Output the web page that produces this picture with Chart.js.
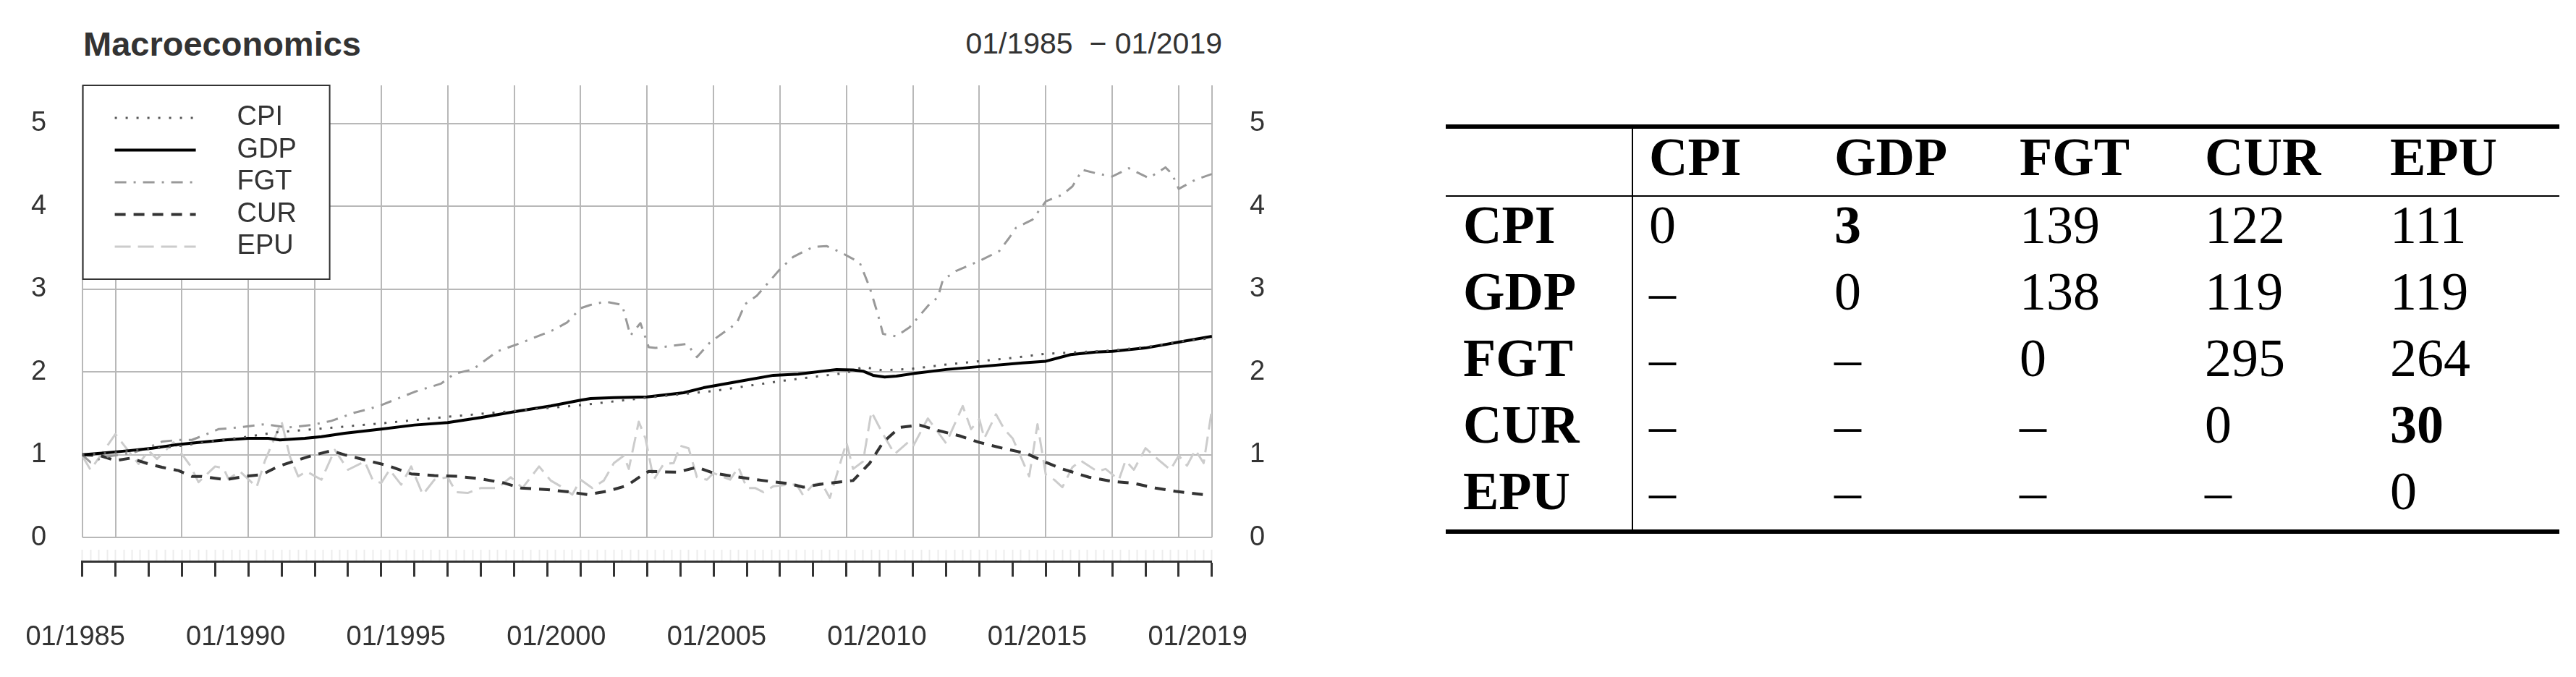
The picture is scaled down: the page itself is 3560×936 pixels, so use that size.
<!DOCTYPE html>
<html>
<head>
<meta charset="utf-8">
<title>Macroeconomics</title>
<script src="https://cdn.jsdelivr.net/npm/chart.js@4.4.1/dist/chart.umd.min.js"></script>
<style>
  html, body { margin: 0; padding: 0; background: #fff; }
  body { width: 3560px; height: 936px; position: relative; overflow: hidden; }
  .chart-box { position: absolute; left: 0; top: 0; width: 1760px; height: 936px; }
  .chart-title { position: absolute; left: 115px; top: 37px; font: bold 47px/47px "Liberation Sans", Arial, sans-serif; color: #333; }
  .chart-range { position: absolute; left: 1189px; top: 40px; width: 500px; text-align: right; white-space: pre; font: 41px/41px "Liberation Sans", Arial, sans-serif; color: #333; }
  table.counts { position: absolute; left: 1998px; top: 172px; border-collapse: separate; border-spacing: 0; table-layout: fixed; width: 1539px;
    font-family: "Liberation Serif", "Times New Roman", serif; font-size: 74px; color: #000; }
  table.counts th, table.counts td { padding: 0 0 0 22px; text-align: left; vertical-align: middle; line-height: 1; font-weight: normal; }
  table.counts thead tr { height: 100px; }
  table.counts tbody tr { height: 92px; }
  table.counts tbody tr:last-child { height: 98px; }
  table.counts thead th { border-top: 6px solid #000; border-bottom: 2px solid #000; font-weight: bold; }
  table.counts tbody tr:last-child td { border-bottom: 6px solid #000; }
  table.counts .rowhead { border-right: 2px solid #000; padding-left: 24px; font-weight: bold; }
  table.counts .b { font-weight: bold; }
  table.counts span { position: relative; top: -7px; }
</style>
</head>
<body>
<div class="chart-title">Macroeconomics</div>
<div class="chart-range">01/1985  − 01/2019</div>
<div class="chart-box"><canvas id="macroChart" width="1760" height="936" style="width:1760px;height:936px"></canvas></div>
<table class="counts" id="counts">
  <colgroup><col style="width:259px"><col style="width:256px"><col style="width:256px"><col style="width:256px"><col style="width:256px"><col style="width:256px"></colgroup>
  <thead></thead>
  <tbody></tbody>
</table>
<script>
// series: [year, index value]
const cpiSeries = [[1985, 1.00], [1986, 1.03], [1987, 1.07], [1988, 1.11], [1989, 1.17], [1990, 1.22], [1990.8, 1.27], [1992, 1.31],
  [1994, 1.38], [1996, 1.46], [1998, 1.53], [2000, 1.60], [2002, 1.69], [2004, 1.77], [2006, 1.89], [2008, 1.99], [2008.5, 2.06],
  [2009.1, 2.02], [2010, 2.04], [2011, 2.09], [2012, 2.13], [2013, 2.17], [2014, 2.22], [2015, 2.24], [2016, 2.26], [2017, 2.30],
  [2018, 2.365], [2019, 2.41]];

const gdpSeries = [[1985, 1.00], [1985.6, 1.02], [1986.4, 1.05], [1987.1, 1.08], [1987.8, 1.12], [1988.5, 1.15], [1989.3, 1.18],
  [1990, 1.20], [1990.6, 1.20], [1990.95, 1.18], [1991.7, 1.20], [1992.2, 1.22], [1992.9, 1.26], [1994, 1.31], [1995, 1.36],
  [1996, 1.39], [1997, 1.45], [1998, 1.52], [1999.1, 1.59], [2000, 1.66], [2000.3, 1.68], [2001, 1.69], [2002, 1.70],
  [2003.1, 1.75], [2003.7, 1.81], [2004.8, 1.89], [2005.8, 1.96], [2006.55, 1.975], [2007.7, 2.03], [2008.2, 2.025],
  [2008.5, 2.01], [2008.8, 1.96], [2009.15, 1.94], [2009.5, 1.95], [2010, 1.98], [2011, 2.03], [2012, 2.065], [2013.3, 2.11],
  [2014, 2.13], [2014.75, 2.21], [2015.5, 2.24], [2016, 2.25], [2017, 2.29], [2018, 2.36], [2019, 2.43]];

const fgtSeries = [[1985, 1.00], [1985.25, 0.91], [1985.75, 0.98], [1986.5, 1.02], [1987, 1.09], [1987.4, 1.16], [1987.9, 1.18],
  [1988.3, 1.18], [1988.75, 1.25], [1989.1, 1.31], [1989.7, 1.33], [1990.5, 1.37], [1991.2, 1.33], [1991.9, 1.36], [1992.5, 1.41],
  [1993.2, 1.51], [1993.6, 1.55], [1994, 1.60], [1995, 1.76], [1995.8, 1.86], [1996.2, 1.98], [1996.75, 2.03], [1997.5, 2.25],
  [1998.2, 2.35], [1999.2, 2.51], [1999.6, 2.60], [2000, 2.77], [2000.3, 2.81], [2000.75, 2.85], [2001.25, 2.81], [2001.5, 2.44],
  [2001.8, 2.59], [2002.05, 2.30], [2002.25, 2.29], [2003.2, 2.34], [2003.5, 2.18], [2003.9, 2.36], [2004.7, 2.59], [2004.95, 2.82],
  [2005.3, 2.92], [2006, 3.24], [2006.4, 3.39], [2007, 3.51], [2007.4, 3.52], [2007.85, 3.44], [2008.4, 3.32], [2008.7, 3.02],
  [2008.95, 2.69], [2009.1, 2.46], [2009.5, 2.43], [2009.9, 2.54], [2010.5, 2.82], [2010.75, 2.90], [2010.9, 3.11], [2011.3, 3.22],
  [2012, 3.34], [2012.6, 3.46], [2012.9, 3.62], [2013.1, 3.74], [2013.6, 3.84], [2014, 4.06], [2014.5, 4.14], [2014.8, 4.24],
  [2015.1, 4.44], [2015.6, 4.39], [2016, 4.36], [2016.5, 4.46], [2017.1, 4.34], [2017.6, 4.47], [2017.8, 4.39], [2018, 4.21],
  [2018.5, 4.32], [2019, 4.39]];

const curSeries = [[1985, 1.00], [1985.55, 0.99], [1986, 0.93], [1986.45, 0.96], [1987, 0.89], [1987.4, 0.85], [1987.9, 0.81],
  [1988.3, 0.74], [1988.6, 0.74], [1989.3, 0.70], [1989.9, 0.74], [1990.4, 0.76], [1990.9, 0.86], [1991.5, 0.94], [1991.9, 0.99],
  [1992.5, 1.05], [1992.9, 1.00], [1993.6, 0.93], [1994.2, 0.87], [1994.9, 0.77], [1995.6, 0.75], [1996.3, 0.74], [1997, 0.71],
  [1997.7, 0.66], [1998.2, 0.60], [1999, 0.58], [1999.7, 0.55], [2000.2, 0.52], [2000.8, 0.56], [2001.4, 0.63], [2001.8, 0.74],
  [2002.05, 0.80], [2002.9, 0.79], [2003.5, 0.85], [2004, 0.78], [2004.6, 0.74], [2005.5, 0.69], [2006.3, 0.65], [2006.7, 0.61],
  [2007.3, 0.65], [2008.2, 0.69], [2008.7, 0.90], [2009.1, 1.15], [2009.6, 1.33], [2010.2, 1.36], [2010.7, 1.30], [2011.4, 1.23],
  [2012, 1.15], [2012.8, 1.07], [2013.4, 1.02], [2014, 0.91], [2014.5, 0.83], [2015.3, 0.73], [2016, 0.68], [2016.6, 0.66],
  [2017.3, 0.60], [2017.9, 0.56], [2018.75, 0.52]];

const epuSeries = [[1985, 0.99], [1985.25, 0.82], [1986, 1.25], [1986.25, 1.12], [1986.7, 0.89], [1987, 1.05], [1987.25, 0.95],
  [1987.75, 1.15], [1988.25, 0.87], [1988.5, 0.67], [1989, 0.86], [1989.25, 0.84], [1989.4, 0.71], [1989.75, 0.80], [1990.25, 0.61],
  [1990.5, 0.93], [1991, 1.40], [1991.25, 0.98], [1991.5, 0.74], [1991.75, 0.80], [1992.2, 0.70], [1992.6, 1.06], [1993, 0.82],
  [1993.5, 0.92], [1993.75, 0.69], [1994, 0.66], [1994.25, 0.82], [1994.6, 0.64], [1994.9, 0.86], [1995.25, 0.52], [1995.6, 0.70],
  [1996, 0.73], [1996.25, 0.55], [1996.6, 0.54], [1997, 0.60], [1997.5, 0.60], [1997.9, 0.73], [1998.25, 0.60], [1998.75, 0.86],
  [1999.1, 0.69], [1999.4, 0.62], [1999.75, 0.52], [2000, 0.70], [2000.35, 0.60], [2000.7, 0.69], [2001, 0.90], [2001.3, 0.99],
  [2001.45, 0.83], [2001.75, 1.40], [2001.95, 1.20], [2002.2, 0.70], [2002.5, 0.89], [2002.8, 0.90], [2003, 1.11], [2003.25, 1.08],
  [2003.5, 0.73], [2003.8, 0.70], [2004, 0.78], [2004.5, 0.70], [2004.75, 0.85], [2005, 0.60], [2005.25, 0.60], [2005.5, 0.55],
  [2005.8, 0.62], [2006.25, 0.64], [2006.5, 0.64], [2006.7, 0.51], [2007, 0.64], [2007.25, 0.66], [2007.5, 0.48], [2008, 1.15],
  [2008.2, 0.83], [2008.5, 0.92], [2008.75, 1.52], [2009.1, 1.25], [2009.45, 1.01], [2009.85, 1.15], [2010, 1.10], [2010.45, 1.44],
  [2011, 1.14], [2011.5, 1.59], [2011.75, 1.31], [2012, 1.43], [2012.15, 1.20], [2012.5, 1.49], [2012.75, 1.31], [2013, 1.20],
  [2013.2, 1.02], [2013.5, 0.74], [2013.75, 1.37], [2014, 0.76], [2014.25, 0.70], [2014.5, 0.61], [2014.8, 0.85], [2015.05, 0.93],
  [2015.55, 0.80], [2015.8, 0.83], [2016.2, 0.70], [2016.4, 0.93], [2016.65, 0.82], [2017, 1.08], [2017.45, 0.92], [2017.75, 0.82],
  [2018, 0.99], [2018.25, 0.87], [2018.5, 1.06], [2018.75, 0.90], [2019, 1.55]];

const xLabels = ['01/1985', '01/1990', '01/1995', '01/2000', '01/2005', '01/2010', '01/2015', '01/2019'];
const yTicks = [0, 1, 2, 3, 4, 5];

// table on the right
const tableVars = ['CPI', 'GDP', 'FGT', 'CUR', 'EPU'];
const tableRows = [
  [0, 3, 139, 122, 111],
  [null, 0, 138, 119, 119],
  [null, null, 0, 295, 264],
  [null, null, null, 0, 30],
  [null, null, null, null, 0]
];
const boldCells = [[0, 1], [3, 4]];

const firstYear = 1985, lastYear = 2019;
const yearTicks = [];
for (let y = firstYear; y <= lastYear; y++) yearTicks.push(y);
const quarterTicks = [];
for (let q = 0; q <= (lastYear - firstYear) * 4; q++) quarterTicks.push(firstYear + q / 4);
const gridYears = yearTicks.filter(y => y % 2 === 0 || y === firstYear || y === lastYear);

const toPoints = s => s.map(p => ({ x: p[0], y: p[1] }));

// legend drawn as a boxed panel in the top-left corner of the plot
const legendBox = {
  id: 'legendBox',
  afterDraw(chart) {
    const { ctx, chartArea } = chart;
    const x = chartArea.left + 1, y = chartArea.top;
    ctx.save();
    ctx.fillStyle = '#fff';
    ctx.fillRect(x, y, 341, 268);
    ctx.strokeStyle = '#333';
    ctx.lineWidth = 2;
    ctx.strokeRect(x, y, 341, 268);
    chart.data.datasets.forEach((ds, i) => {
      const ly = y + 45 + i * 44.5;
      ctx.beginPath();
      ctx.setLineDash(ds.borderDash || []);
      ctx.strokeStyle = ds.borderColor;
      ctx.lineWidth = ds.borderWidth;
      ctx.moveTo(x + 44, ly);
      ctx.lineTo(x + 156, ly);
      ctx.stroke();
      ctx.setLineDash([]);
      ctx.fillStyle = '#333';
      ctx.font = '38px "Liberation Sans", Arial, sans-serif';
      ctx.textBaseline = 'middle';
      ctx.fillText(ds.label, x + 213, ly);
    });
    ctx.restore();
  }
};

Chart.defaults.font.family = '"Liberation Sans", Arial, sans-serif';
Chart.defaults.color = '#333';

const line = (label, series, color, width, dash) => ({
  label: label,
  data: toPoints(series),
  borderColor: color,
  borderWidth: width,
  borderDash: dash,
  xAxisID: 'x',
  yAxisID: 'y'
});

new Chart(document.getElementById('macroChart'), {
  type: 'line',
  data: {
    datasets: [
      line('CPI', cpiSeries, '#555', 3, [3, 12]),
      line('GDP', gdpSeries, '#000', 4, []),
      line('FGT', fgtSeries, '#999', 3, [16, 10, 3, 10]),
      line('CUR', curSeries, '#333', 4, [15, 11]),
      line('EPU', epuSeries, '#ccc', 3, [22, 10])
    ]
  },
  options: {
    responsive: false,
    animation: false,
    layout: { padding: { left: 43, right: 12, top: 118, bottom: 32 } },
    elements: {
      point: { radius: 0, hoverRadius: 0 },
      line: { tension: 0, fill: false, borderJoinStyle: 'round' }
    },
    plugins: { legend: { display: false }, tooltip: { enabled: false } },
    scales: {
      x: {
        type: 'linear', position: 'bottom', weight: 0, min: firstYear, max: lastYear,
        afterBuildTicks: axis => { axis.ticks = gridYears.map(v => ({ value: v })); },
        grid: { color: '#b8b8b8', lineWidth: 2, drawTicks: true, tickLength: 17, tickColor: 'rgba(0,0,0,0)' },
        border: { display: false },
        ticks: { display: false }
      },
      xq: {
        type: 'linear', position: 'bottom', weight: 1, min: firstYear, max: lastYear,
        afterBuildTicks: axis => { axis.ticks = quarterTicks.map(v => ({ value: v })); },
        grid: { drawOnChartArea: false, tickLength: 16, tickColor: '#ececec', tickWidth: 2 },
        border: { display: false },
        ticks: { display: false }
      },
      xy: {
        type: 'linear', position: 'bottom', weight: 2, min: firstYear, max: lastYear,
        afterBuildTicks: axis => { axis.ticks = yearTicks.map(v => ({ value: v })); },
        grid: { drawOnChartArea: false, tickLength: 21, tickColor: '#333', tickWidth: 3 },
        border: { display: true, color: '#333', width: 3 },
        ticks: { display: false }
      },
      xl: {
        // date labels are spread evenly under the axis
        type: 'linear', position: 'bottom', weight: 3, min: 0, max: 1561.5 / 221.6,
        afterBuildTicks: axis => { axis.ticks = xLabels.map((_, i) => ({ value: i })); },
        afterFit: axis => { axis.height = 106.6; axis.paddingLeft = 0; axis.paddingRight = 0; },
        grid: { display: false, drawTicks: false },
        border: { display: false },
        ticks: { padding: 61, labelOffset: -9.5, autoSkip: false, maxRotation: 0, font: { size: 38 }, color: '#333',
          callback: v => xLabels[v] }
      },
      y: {
        type: 'linear', position: 'left', min: 0, max: 5.46,
        afterBuildTicks: axis => { axis.ticks = yTicks.map(v => ({ value: v })); },
        afterFit: axis => { axis.width = 70.6; },
        grid: { color: '#b8b8b8', lineWidth: 2, drawTicks: false },
        border: { display: false },
        ticks: { padding: 49.5, font: { size: 38 }, color: '#333' }
      },
      y2: {
        type: 'linear', position: 'right', min: 0, max: 5.46,
        afterBuildTicks: axis => { axis.ticks = yTicks.map(v => ({ value: v })); },
        afterFit: axis => { axis.width = 73.1; },
        grid: { drawOnChartArea: false, drawTicks: false },
        border: { display: false },
        ticks: { padding: 52, font: { size: 38 }, color: '#333' }
      }
    }
  },
  plugins: [legendBox]
});

// build the table
const table = document.getElementById('counts');
const headRow = document.createElement('tr');
const corner = document.createElement('th');
corner.className = 'rowhead';
headRow.appendChild(corner);
tableVars.forEach(v => {
  const th = document.createElement('th');
  th.innerHTML = '<span>' + v + '</span>';
  headRow.appendChild(th);
});
table.tHead.appendChild(headRow);

tableRows.forEach((row, r) => {
  const tr = document.createElement('tr');
  const th = document.createElement('td');
  th.className = 'rowhead';
  th.innerHTML = '<span>' + tableVars[r] + '</span>';
  tr.appendChild(th);
  row.forEach((val, c) => {
    const td = document.createElement('td');
    if (boldCells.some(b => b[0] === r && b[1] === c)) td.className = 'b';
    td.innerHTML = '<span>' + (val === null ? '–' : val) + '</span>';
    tr.appendChild(td);
  });
  table.tBodies[0].appendChild(tr);
});
</script>
</body>
</html>
